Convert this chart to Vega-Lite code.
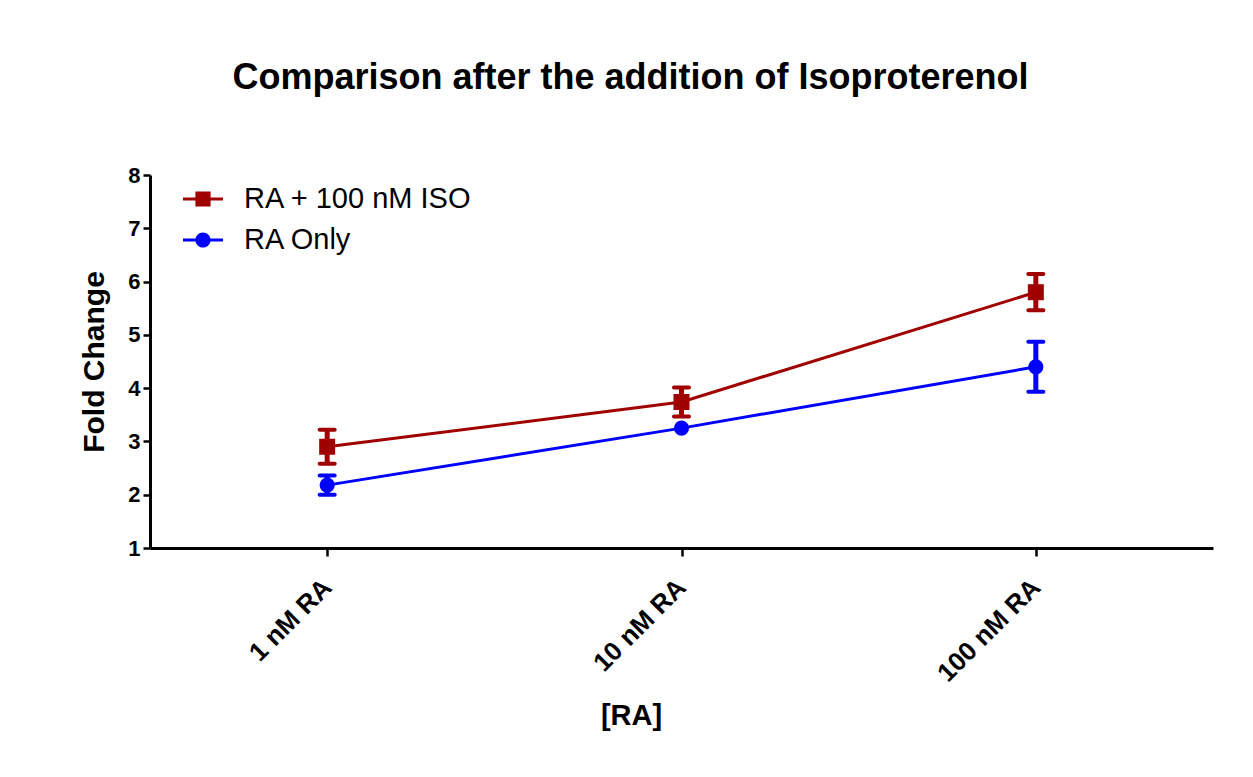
{
  "$schema": "https://vega.github.io/schema/vega-lite/v6.json",
  "width": 1063,
  "height": 373,
  "autosize": {"type": "none"},
  "padding": {"left": 150, "top": 175, "right": 40, "bottom": 229},
  "background": "white",
  "config": {
    "font": "Liberation Sans",
    "view": {"stroke": null},
    "axis": {
      "domainColor": "black",
      "domainWidth": 3,
      "tickColor": "black",
      "tickWidth": 2.5,
      "labelColor": "black",
      "labelFontWeight": "bold",
      "titleColor": "black",
      "titleFontWeight": "bold",
      "grid": false
    }
  },
  "title": {
    "text": "Comparison after the addition of Isoproterenol",
    "fontSize": 36,
    "fontWeight": "bold",
    "color": "black",
    "anchor": "middle",
    "dx": -51,
    "offset": 67
  },
  "data": {
    "values": [
      {"conc": "1 nM RA", "series": "RA + 100 nM ISO", "mean": 2.9, "lo": 2.58, "hi": 3.22},
      {"conc": "10 nM RA", "series": "RA + 100 nM ISO", "mean": 3.74, "lo": 3.47, "hi": 4.01},
      {"conc": "100 nM RA", "series": "RA + 100 nM ISO", "mean": 5.8, "lo": 5.46, "hi": 6.14},
      {"conc": "1 nM RA", "series": "RA Only", "mean": 2.18, "lo": 2.0, "hi": 2.36},
      {"conc": "10 nM RA", "series": "RA Only", "mean": 3.25, "lo": null, "hi": null},
      {"conc": "100 nM RA", "series": "RA Only", "mean": 4.4, "lo": 3.93, "hi": 4.87}
    ]
  },
  "resolve": {"legend": {"color": "independent", "shape": "independent"}},
  "encoding": {
    "x": {
      "field": "conc",
      "type": "ordinal",
      "sort": ["1 nM RA", "10 nM RA", "100 nM RA"],
      "scale": {"type": "point", "padding": 0.5},
      "axis": {
        "title": "[RA]",
        "titleFontSize": 29,
        "titleX": 481,
        "titleY": 167,
        "titleBaseline": "middle",
        "titleAlign": "center",
        "labelAngle": -45,
        "labelAlign": "right",
        "labelBaseline": "middle",
        "labelFontSize": 26,
        "labelPadding": 27,
        "tickSize": 8
      }
    }
  },
  "layer": [
    {
      "mark": {"type": "line", "strokeWidth": 3},
      "encoding": {
        "y": {
          "field": "mean",
          "type": "quantitative",
          "scale": {"domain": [1, 8], "nice": false, "zero": false},
          "axis": {
            "title": "Fold Change",
            "titleFontSize": 30,
            "titlePadding": 18,
            "values": [1, 2, 3, 4, 5, 6, 7, 8],
            "format": "d",
            "labelFontSize": 22,
            "labelPadding": 3,
            "tickSize": 7
          }
        },
        "color": {
          "field": "series",
          "type": "nominal",
          "scale": {"domain": ["RA + 100 nM ISO", "RA Only"], "range": ["#a00000", "#0000ff"]},
          "legend": null
        }
      }
    },
    {
      "mark": {"type": "rule", "strokeWidth": 5},
      "encoding": {
        "y": {"field": "lo", "type": "quantitative"},
        "y2": {"field": "hi"},
        "color": {"field": "series", "type": "nominal", "legend": null}
      }
    },
    {
      "mark": {"type": "tick", "size": 19, "thickness": 4, "cornerRadius": 2, "opacity": 1},
      "encoding": {
        "y": {"field": "lo", "type": "quantitative"},
        "color": {"field": "series", "type": "nominal", "legend": null}
      }
    },
    {
      "mark": {"type": "tick", "size": 19, "thickness": 4, "cornerRadius": 2, "opacity": 1},
      "encoding": {
        "y": {"field": "hi", "type": "quantitative"},
        "color": {"field": "series", "type": "nominal", "legend": null}
      }
    },
    {
      "transform": [{"filter": "datum.series === 'RA + 100 nM ISO'"}],
      "mark": {"type": "point", "filled": true, "opacity": 1, "size": 256, "shape": "square"},
      "encoding": {
        "y": {"field": "mean", "type": "quantitative"},
        "color": {"field": "series", "type": "nominal", "legend": null}
      }
    },
    {
      "transform": [{"filter": "datum.series === 'RA Only'"}],
      "mark": {"type": "point", "filled": true, "opacity": 1, "size": 230, "shape": "circle"},
      "encoding": {
        "y": {"field": "mean", "type": "quantitative"},
        "color": {"field": "series", "type": "nominal", "legend": null}
      }
    },
    {
      "transform": [{"filter": "false"}],
      "mark": {"type": "point", "filled": true, "opacity": 1, "size": 1600, "strokeWidth": 0},
      "encoding": {
        "y": {"field": "mean", "type": "quantitative"},
        "color": {
          "field": "series",
          "type": "nominal",
          "legend": {
            "title": null,
            "orient": "none",
            "legendX": 33,
            "legendY": 4,
            "labelFontSize": 29,
            "labelLimit": 500,
            "labelColor": "black",
            "labelFont": "Liberation Sans",
            "labelOffset": 21,
            "rowPadding": 6,
            "symbolSize": 1600,
            "symbolStrokeWidth": 0,
            "symbolOpacity": 1
          }
        },
        "shape": {
          "field": "series",
          "type": "nominal",
          "scale": {
            "domain": ["RA + 100 nM ISO", "RA Only"],
            "range": [
              "M-1,-0.08H1V0.08H-1ZM-0.38,-0.38H0.38V0.38H-0.38Z",
              "M-1,-0.08H1V0.08H-1ZM0.38,0A0.38,0.38 0 1,1 -0.38,0A0.38,0.38 0 1,1 0.38,0Z"
            ]
          },
          "legend": {
            "title": null,
            "orient": "none",
            "legendX": 33,
            "legendY": 4,
            "labelFontSize": 29,
            "labelLimit": 500,
            "labelColor": "black",
            "labelFont": "Liberation Sans",
            "labelOffset": 21,
            "rowPadding": 6,
            "symbolSize": 1600,
            "symbolStrokeWidth": 0,
            "symbolOpacity": 1
          }
        }
      }
    }
  ]
}
